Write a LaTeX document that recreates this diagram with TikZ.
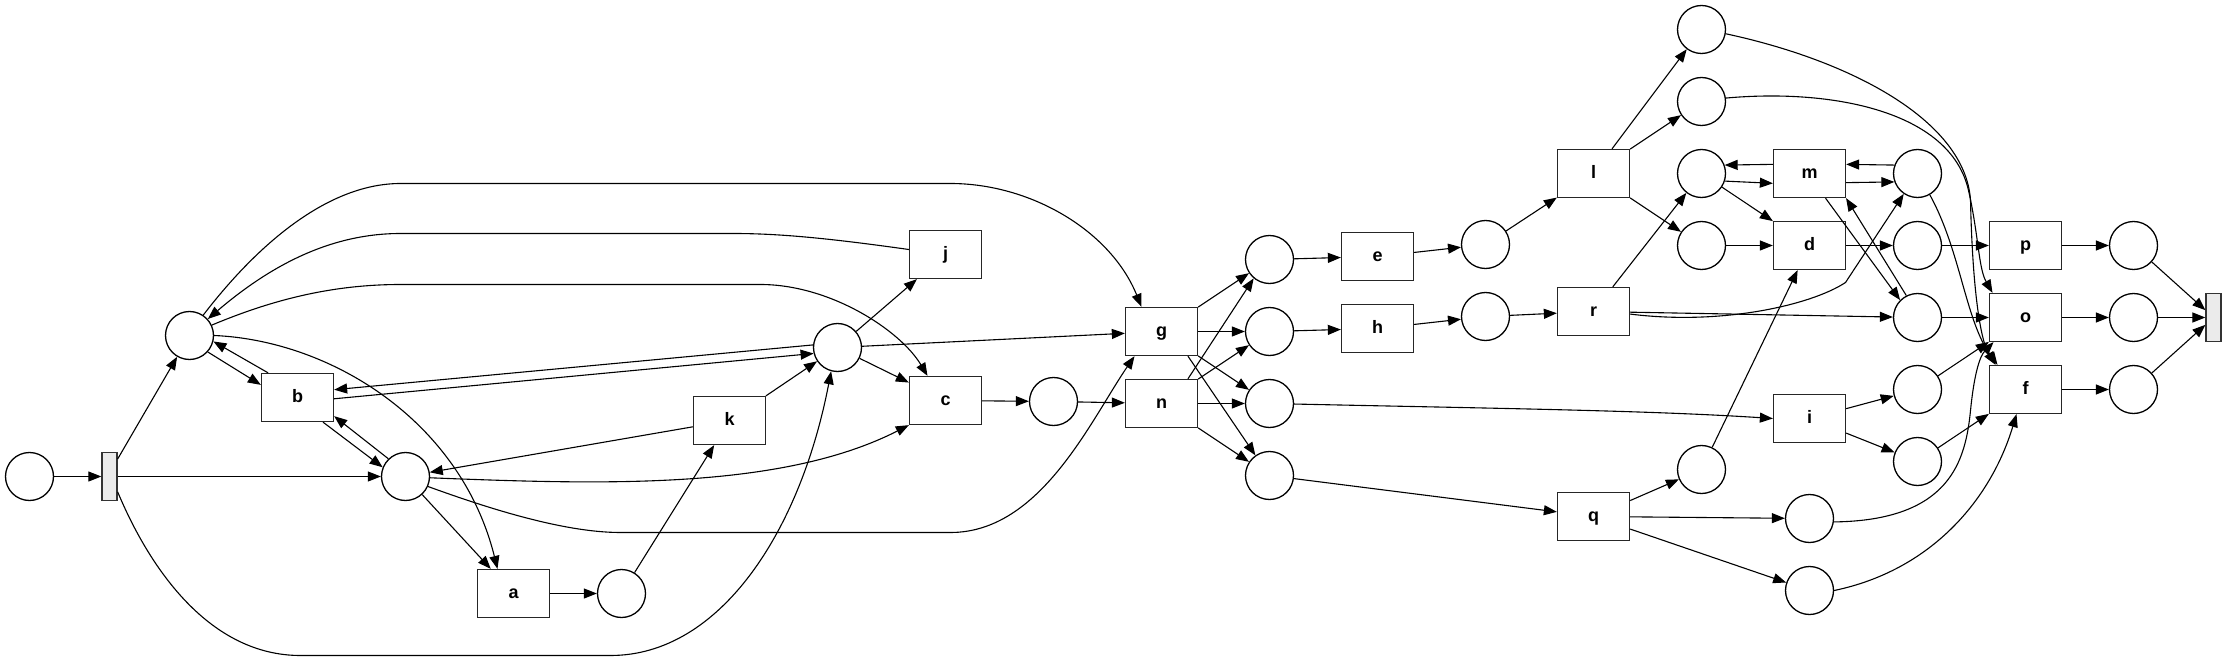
\documentclass[tikz,border=0pt]{standalone}
\usepackage{fontspec}
\setmainfont{Liberation Sans}
\usetikzlibrary{arrows.meta}
\begin{document}
\begin{tikzpicture}[x=1pt,y=-1pt,
  place/.style={circle,draw=black,line width=1.3pt,minimum size=48pt,inner sep=0pt},
  trans/.style={rectangle,draw=black!85,line width=1.3pt,minimum width=72pt,minimum height=48pt,inner sep=0pt,font=\bfseries\fontsize{18}{18}\selectfont,text height=9.4pt,text depth=0pt},
  silent/.style={rectangle,draw=black!80,line width=1.3pt,fill=black!8,minimum width=15pt,minimum height=48pt,inner sep=0pt},
  arr/.style={-{Triangle[length=13pt,width=10pt]},line width=1.1pt}]
\useasboundingbox (0,0) rectangle (2227,660);
\begin{scope}[xshift=0.5pt,yshift=-0.5pt]
% nodes
\node[place] (src) at (29,476) {};
\node[silent] (bar1) at (109,476) {};
\node[place] (P1) at (189,335) {};
\node[trans] (b) at (297,397) {b};
\node[place] (P2) at (405,476) {};
\node[trans] (a) at (513,593) {a};
\node[place] (P3) at (621,593) {};
\node[trans] (k) at (729,420) {k};
\node[place] (P4) at (837,347) {};
\node[trans] (j) at (945,254) {j};
\node[trans] (c) at (945,400) {c};
\node[place] (P5) at (1053,401) {};
\node[trans] (g) at (1161,331) {g};
\node[trans] (n) at (1161,403) {n};
\node[place] (E1) at (1269,259) {};
\node[place] (H1) at (1269,331) {};
\node[place] (I1) at (1269,403) {};
\node[place] (Q1) at (1269,475) {};
\node[trans] (e) at (1377,256) {e};
\node[trans] (h) at (1377,328) {h};
\node[place] (E2) at (1485,244) {};
\node[place] (H2) at (1485,316) {};
\node[trans] (l) at (1593,173) {l};
\node[trans] (r) at (1593,311) {r};
\node[trans] (q) at (1593,516) {q};
\node[place] (L1) at (1701,29) {};
\node[place] (L2) at (1701,101) {};
\node[place] (M1) at (1701,173) {};
\node[place] (L3) at (1701,245) {};
\node[place] (Q2) at (1701,469) {};
\node[trans] (m) at (1809,173) {m};
\node[trans] (d) at (1809,245) {d};
\node[trans] (i) at (1809,418) {i};
\node[place] (Q3) at (1809,518) {};
\node[place] (Q4) at (1809,590) {};
\node[place] (M2) at (1917,173) {};
\node[place] (D2) at (1917,245) {};
\node[place] (O1) at (1917,317) {};
\node[place] (I2) at (1917,389) {};
\node[place] (I3) at (1917,461) {};
\node[trans] (p) at (2025,245) {p};
\node[trans] (o) at (2025,317) {o};
\node[trans] (f) at (2025,389) {f};
\node[place] (Z1) at (2133,245) {};
\node[place] (Z2) at (2133,317) {};
\node[place] (Z3) at (2133,389) {};
\node[silent] (endb) at (2213,317) {};
% left part
\draw[arr] (src) -- (bar1);
\draw[arr] (bar1.65) -- (P1);
\draw[arr] (bar1) -- (P2);
\draw[arr] (bar1.-62) .. controls (150,570) and (210,655) .. (300,655) -- (610,655) .. controls (720,655) and (800,530) .. (P4.-105);
\draw[arr] (P1.-42) -- (b.161);
\draw[arr] (b.140) -- (P1.-14);
\draw[arr] (b.-44) -- (P2.158);
\draw[arr] (P2.134) -- (b.-27);
\draw[arr] (P1.east) .. controls (330,340) and (460,420) .. ([xshift=-16pt]a.north);
\draw[arr] (P2) -- (a);
\draw[arr] (P1.56) .. controls (260,240) and (330,183) .. (400,183) -- (950,183) .. controls (1030,183) and (1110,230) .. ([xshift=-20pt]g.north);
\draw[arr] ([yshift=5pt]j.west) .. controls (830,238) and (780,233) .. (733,233) -- (400,233) .. controls (330,233) and (270,265) .. (P1.42);
\draw[arr] (P1.25) .. controls (270,300) and (330,284) .. (400,284) -- (760,284) .. controls (830,284) and (900,330) .. ([xshift=-18pt]c.north);
\draw[arr] (P4.174) -- (b.12);
\draw[arr] (b.-2) -- (P4.-166);
\draw[arr] (k) -- (P2);
\draw[arr] (P2.-3) .. controls (600,484) and (780,490) .. (c.south west);
\draw[arr] (P2.-24) .. controls (480,505) and (560,532) .. (620,532) -- (950,532) .. controls (1040,532) and (1090,420) .. ([xshift=-27pt]g.south);
\draw[arr] (a) -- (P3);
\draw[arr] (P3) -- (k);
\draw[arr] (k) -- (P4);
\draw[arr] (P4) -- (j);
\draw[arr] (P4) -- (c);
\draw[arr] (P4) -- (g);
\draw[arr] (c) -- (P5);
\draw[arr] (P5) -- (n);
% middle part
\draw[arr] (g) -- (E1);
\draw[arr] (g) -- (H1);
\draw[arr] (g) -- (I1);
\draw[arr] (g.-43) -- (Q1.125);
\draw[arr] (n.43) -- (E1.-130);
\draw[arr] (n) -- (H1);
\draw[arr] (n) -- (I1);
\draw[arr] (n) -- (Q1);
\draw[arr] (E1) -- (e);
\draw[arr] (e) -- (E2);
\draw[arr] (E2) -- (l);
\draw[arr] (H1) -- (h);
\draw[arr] (h) -- (H2);
\draw[arr] (H2) -- (r);
\draw[arr] (I1) .. controls (1500,408) and (1650,410) .. (i.west);
\draw[arr] (Q1) -- (q);
% right part
\draw[arr] (l) -- (L1);
\draw[arr] (l) -- (L2);
\draw[arr] (l) -- (L3);
\draw[arr] (r) -- (M1);
\draw[arr] (r) -- (O1);
\draw[arr] (r.-4) .. controls (1720,325) and (1810,305) .. (1845,282) -- (M2.-124);
\draw[arr] (q) -- (Q2);
\draw[arr] (q) -- (Q3);
\draw[arr] (q) -- (Q4);
\draw[arr] (m.166) -- (M1.20);
\draw[arr] (M1.-18) -- (m.-165);
\draw[arr] (M2.160) -- (m.14);
\draw[arr] (m.-14) -- (M2.-160);
\draw[arr] (M1) -- (d);
\draw[arr] (L3) -- (d);
\draw[arr] (Q2) -- (d);
\draw[arr] (d) -- (D2);
\draw[arr] (D2) -- (p);
\draw[arr] (m.-57) -- (O1.135);
\draw[arr] (O1.117) -- (m.-34);
\draw[arr] (O1) -- (o);
\draw[arr] (i) -- (I2);
\draw[arr] (i) -- (I3);
\draw[arr] (M2.-60) .. controls (1960,250) and (1965,320) .. ([xshift=-28pt]f.north);
\draw[arr] (L1.-10) .. controls (1850,60) and (1965,120) .. (1970,200) .. controls (1972,290) and (1980,340) .. ([xshift=-30pt]f.north);
\draw[arr] (L2.8) .. controls (1830,88) and (1950,110) .. (1968,190) .. controls (1978,234) and (1978,268) .. ([xshift=-33pt]o.north);
\draw[arr] (I2) -- (o);
\draw[arr] (I3) -- (f);
\draw[arr] (Q3.-8) .. controls (1950,520) and (1965,460) .. (1970,410) .. controls (1974,370) and (1980,355) .. ([xshift=-32pt]o.south);
\draw[arr] (Q4.east) .. controls (1930,570) and (1990,500) .. ([xshift=-9pt]f.south);
\draw[arr] (p) -- (Z1);
\draw[arr] (o) -- (Z2);
\draw[arr] (f) -- (Z3);
\draw[arr] (Z1) -- (endb);
\draw[arr] (Z2) -- (endb);
\draw[arr] (Z3) -- (endb);
\end{scope}
\end{tikzpicture}
\end{document}
